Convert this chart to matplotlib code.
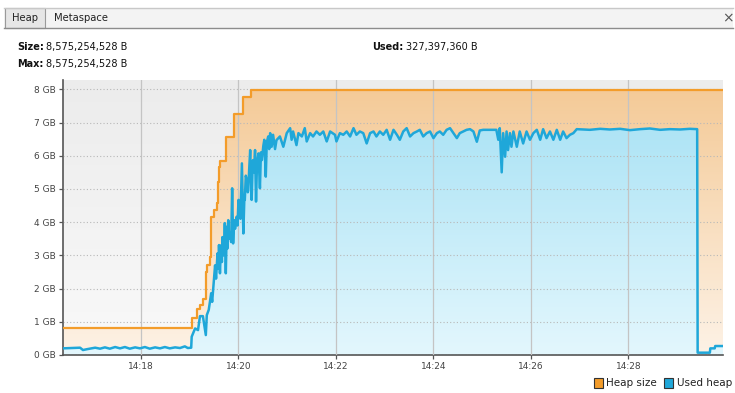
import numpy as np
import matplotlib
matplotlib.use('Agg')
import matplotlib.pyplot as plt
from matplotlib.colors import LinearSegmentedColormap
from matplotlib.patches import Rectangle
from matplotlib.lines import Line2D
from matplotlib.ticker import FuncFormatter, MultipleLocator

# times are minutes after 14:00, values are GB
size_t = [16.40, 18.42, 19.04, 19.14, 19.21, 19.28, 19.33, 19.35, 19.42, 19.44,
          19.50, 19.55, 19.59, 19.61, 19.62, 19.74, 19.91, 20.09, 20.26, 29.94]
size_gb = [0.80, 0.82, 1.10, 1.40, 1.50, 1.70, 2.50, 2.70, 2.96, 4.17,
           4.37, 4.57, 5.22, 5.67, 5.84, 6.57, 7.25, 7.78, 7.98, 7.98]

used_t = [16.40, 16.75, 16.81, 16.91, 17.06, 17.16, 17.26, 17.36, 17.47, 17.57,
          17.67, 17.77, 17.88, 17.98, 18.08, 18.18, 18.29, 18.39, 18.49, 18.59,
          18.70, 18.80, 18.90, 18.96, 19.03, 19.04, 19.11, 19.17, 19.21, 19.27,
          19.33, 19.35, 19.39, 19.44, 19.46, 19.50, 19.52, 19.54, 19.57, 19.59,
          19.60, 19.62, 19.64, 19.66, 19.67, 19.69, 19.71, 19.72, 19.74, 19.76,
          19.77, 19.79, 19.81, 19.83, 19.85, 19.87, 19.89, 19.91, 19.93, 19.96,
          19.98, 20.00, 20.02, 20.04, 20.07, 20.10, 20.12, 20.13, 20.15, 20.17,
          20.19, 20.20, 20.22, 20.24, 20.27, 20.29, 20.30, 20.32, 20.34, 20.36,
          20.38, 20.41, 20.44, 20.46, 20.48, 20.51, 20.53, 20.56, 20.58, 20.61,
          20.63, 20.65, 20.68, 20.71, 20.75, 20.78, 20.85, 20.92, 20.99, 21.06,
          21.09, 21.12, 21.19, 21.23, 21.30, 21.36, 21.40, 21.47, 21.53, 21.60,
          21.67, 21.74, 21.81, 21.88, 21.98, 22.01, 22.08, 22.15, 22.22, 22.29,
          22.36, 22.42, 22.49, 22.56, 22.63, 22.70, 22.77, 22.83, 22.90, 22.97,
          23.04, 23.11, 23.18, 23.25, 23.31, 23.38, 23.45, 23.52, 23.59, 23.66,
          23.72, 23.79, 23.86, 23.93, 24.00, 24.07, 24.13, 24.20, 24.27, 24.34,
          24.41, 24.48, 24.54, 24.61, 24.68, 24.75, 24.82, 24.89, 24.95, 25.02,
          25.29, 25.33, 25.36, 25.40, 25.43, 25.47, 25.50, 25.53, 25.57, 25.60,
          25.64, 25.71, 25.77, 25.84, 25.91, 25.98, 26.05, 26.12, 26.19, 26.25,
          26.32, 26.39, 26.46, 26.53, 26.60, 26.66, 26.73, 26.80, 26.87, 26.94,
          27.21, 27.42, 27.62, 27.83, 28.03, 28.24, 28.44, 28.65, 28.85, 29.06,
          29.26, 29.41, 29.42, 29.67, 29.68, 29.77, 29.78, 29.94]
used_gb = [0.20, 0.22, 0.15, 0.18, 0.22, 0.19, 0.23, 0.19, 0.24, 0.20,
           0.24, 0.19, 0.23, 0.20, 0.24, 0.19, 0.23, 0.20, 0.24, 0.20,
           0.23, 0.21, 0.26, 0.21, 0.22, 0.55, 0.80, 0.75, 1.17, 1.17,
           0.60, 1.20, 1.36, 1.86, 1.60, 2.36, 2.70, 2.30, 3.06, 2.60,
           3.31, 2.46, 3.30, 2.80, 3.55, 3.00, 3.40, 3.97, 2.46, 3.86,
           3.20, 4.06, 3.50, 3.66, 3.40, 5.02, 3.36, 4.06, 3.80, 4.16,
           3.90, 4.67, 4.30, 4.10, 5.77, 3.66, 4.70, 4.67, 5.40, 5.27,
           4.90, 4.95, 5.60, 6.17, 4.67, 5.70, 5.87, 5.50, 6.17, 4.62,
           5.80, 6.07, 5.02, 6.10, 5.87, 6.30, 6.48, 5.37, 6.40, 6.58,
           6.20, 6.68, 6.27, 6.63, 6.20, 6.47, 6.58, 6.27, 6.68, 6.83,
           6.48, 6.73, 6.32, 6.68, 6.58, 6.83, 6.43, 6.68, 6.58, 6.73,
           6.63, 6.73, 6.43, 6.73, 6.63, 6.43, 6.68, 6.63, 6.73, 6.58,
           6.83, 6.63, 6.73, 6.68, 6.37, 6.68, 6.73, 6.58, 6.73, 6.63,
           6.78, 6.48, 6.78, 6.63, 6.48, 6.73, 6.83, 6.58, 6.68, 6.73,
           6.78, 6.58, 6.68, 6.73, 6.53, 6.68, 6.73, 6.63, 6.78, 6.83,
           6.68, 6.53, 6.68, 6.73, 6.78, 6.80, 6.73, 6.42, 6.76, 6.78,
           6.78, 6.48, 6.83, 5.50, 6.68, 5.97, 6.73, 6.17, 6.68, 6.27,
           6.73, 6.27, 6.73, 6.37, 6.73, 6.48, 6.68, 6.78, 6.48, 6.80,
           6.53, 6.73, 6.48, 6.78, 6.48, 6.73, 6.53, 6.63, 6.68, 6.80,
           6.78, 6.81, 6.79, 6.81, 6.77, 6.80, 6.82, 6.78, 6.80, 6.79,
           6.81, 6.80, 0.07, 0.07, 0.20, 0.20, 0.27, 0.27]

tab_names = ["Heap", "Metaspace"]
size_text = "8,575,254,528 B"
max_text = "8,575,254,528 B"
used_text = "327,397,360 B"
legend_labels = ["Heap size", "Used heap"]

W, H = 735, 393
ORANGE = '#f39c2a'
BLUE = '#1fa7d9'
GREY = '#555555'
XMIN, XMAX, YMAX = 16.40, 29.94, 8.28


def fx(px):
    return px / W


def fy(py):
    return 1 - py / H


def gradient_fill(ax, t, v, top, bottom, z, step=None):
    # fill under a curve with a vertical colour gradient
    coll = ax.fill_between(t, v, 0, step=step, facecolor='none', edgecolor='none')
    cmap = LinearSegmentedColormap.from_list('g', [bottom, top])
    grad = np.linspace(0, 1, 256).reshape(-1, 1)
    im = ax.imshow(grad, extent=[XMIN, XMAX, 0, YMAX], origin='lower', aspect='auto',
                   cmap=cmap, zorder=z, interpolation='bilinear')
    im.set_clip_path(coll.get_paths()[0], ax.transData)
    return im


fig = plt.figure(figsize=(W / 100, H / 100), dpi=100)
fig.patch.set_facecolor('white')

# tab bar
fig.add_artist(Rectangle((fx(4), fy(28)), (733 - 4) / W, 20 / H, transform=fig.transFigure,
                         facecolor='#f3f3f3', edgecolor='none'))
fig.add_artist(Line2D([fx(4), fx(733)], [fy(7.5), fy(7.5)], color='#c8c8c8', lw=1))
fig.add_artist(Line2D([fx(4), fx(733)], [fy(28), fy(28)], color='#8c8c8c', lw=1))
fig.add_artist(Rectangle((fx(4.5), fy(28)), 40.5 / W, 20 / H, transform=fig.transFigure,
                         facecolor='#e6e6e6', edgecolor='#9a9a9a', lw=0.8))
fig.text(fx(12), fy(18), tab_names[0], fontsize=7.2, va='center', ha='left', color='#222222')
fig.text(fx(54), fy(18), tab_names[1], fontsize=7.2, va='center', ha='left', color='#222222')
fig.text(fx(728), fy(18), "\u00d7", fontsize=10, va='center', ha='center', color='#555555')

# info labels
fig.text(fx(17), fy(47), "Size:", fontsize=7, fontweight='bold', va='center', color='#111111')
fig.text(fx(46), fy(47), size_text, fontsize=7, va='center', color='#111111')
fig.text(fx(17), fy(64), "Max:", fontsize=7, fontweight='bold', va='center', color='#111111')
fig.text(fx(46), fy(64), max_text, fontsize=7, va='center', color='#111111')
fig.text(fx(372), fy(47), "Used:", fontsize=7, fontweight='bold', va='center', color='#111111')
fig.text(fx(406), fy(47), used_text, fontsize=7, va='center', color='#111111')

ax = fig.add_axes([fx(63), fy(355), (723 - 63) / W, (355 - 80) / H])

# background + fills
bg = LinearSegmentedColormap.from_list('bg', ['#f9f9f9', '#ececec'])
ax.imshow(np.linspace(0, 1, 256).reshape(-1, 1), extent=[XMIN, XMAX, 0, YMAX],
          origin='lower', aspect='auto', cmap=bg, zorder=0)
gradient_fill(ax, size_t, size_gb, '#f4c995', '#fdf2e6', 1, step='post')
gradient_fill(ax, used_t, used_gb, '#a3e0f4', '#e3f7fd', 1.5)

ax.plot(size_t, size_gb, drawstyle='steps-post', color=ORANGE, lw=1.6, zorder=3)
ax.plot(used_t, used_gb, color=BLUE, lw=1.8, zorder=3.5)

ax.set_xlim(XMIN, XMAX)
ax.set_ylim(0, YMAX)

ax.set_axisbelow(False)
ax.xaxis.set_major_locator(MultipleLocator(2))
ax.yaxis.set_major_locator(MultipleLocator(1))
ax.xaxis.set_major_formatter(FuncFormatter(lambda v, p: "14:%02d" % int(round(v))))
ax.yaxis.set_major_formatter(FuncFormatter(lambda v, p: "%d GB" % int(round(v))))
ax.xaxis.grid(True, color='#c4c4c4', lw=0.9, ls='-')
ax.yaxis.grid(True, color='#b8b8b8', lw=0.8, ls=(0, (1, 2)))
ax.tick_params(axis='both', colors=GREY, labelsize=6.5, length=3, width=0.9, pad=2)
ax.tick_params(axis='x', labelcolor='#444444')
ax.tick_params(axis='y', labelcolor='#444444')
for side in ['top', 'right']:
    ax.spines[side].set_visible(False)
for side in ['left', 'bottom']:
    ax.spines[side].set_color(GREY)
    ax.spines[side].set_linewidth(1.2)

# legend
fig.add_artist(Rectangle((fx(594), fy(388)), 9 / W, 10 / H, transform=fig.transFigure,
                         facecolor=ORANGE, edgecolor='#333333', lw=0.8))
fig.text(fx(606), fy(383), legend_labels[0], fontsize=7.5, va='center', color='#222222')
fig.add_artist(Rectangle((fx(664), fy(388)), 9 / W, 10 / H, transform=fig.transFigure,
                         facecolor=BLUE, edgecolor='#333333', lw=0.8))
fig.text(fx(677), fy(383), legend_labels[1], fontsize=7.5, va='center', color='#222222')

fig.savefig('out.png', dpi=100)
